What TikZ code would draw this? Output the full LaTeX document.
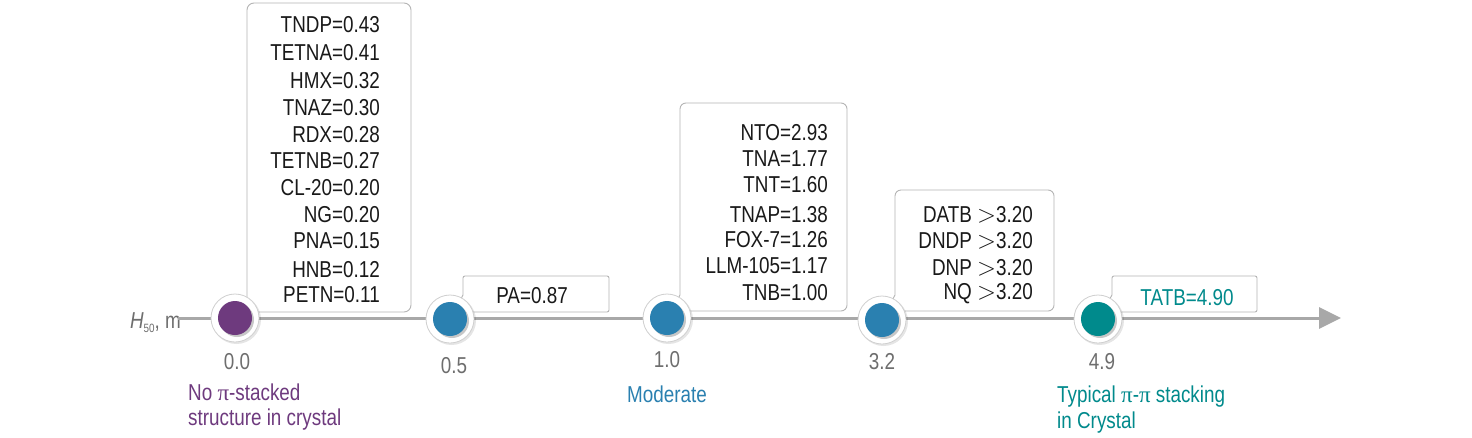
\documentclass[tikz,border=0pt]{standalone}
\usepackage{fontspec}
\setmainfont{Liberation Sans}[FakeStretch=0.82]
\newfontfamily\pifont{Liberation Serif}
\usetikzlibrary{arrows.meta}
\definecolor{cpurple}{HTML}{6E3A7E}
\definecolor{cblue}{HTML}{2A80B0}
\definecolor{cteal}{HTML}{008A8C}
\definecolor{tgray}{HTML}{6E6E6E}
\definecolor{axgray}{HTML}{A8A8A8}
\definecolor{boxgray}{HTML}{B4B4B4}
\definecolor{halogray}{HTML}{CFCFCF}
\begin{document}
\begin{tikzpicture}[x=1pt,y=-1pt,
  axisline/.style={draw=axgray, line width=3pt},
  boxline/.style={draw=boxgray, line width=0.9pt, fill=white},
  val/.style={anchor=base east, inner sep=0pt, font=\fontsize{23}{26}\selectfont, text=black!90},
  valc/.style={anchor=base, inner sep=0pt, font=\fontsize{23}{26}\selectfont, text=black!90},
  tick/.style={anchor=base, inner sep=0pt, font=\fontsize{23}{26}\selectfont, text=tgray},
  note/.style={anchor=base west, inner sep=0pt, font=\fontsize{23}{26}\selectfont},
  halo/.style={fill=white, draw=halogray, line width=0.8pt},
  shadow/.style={fill=black, opacity=0.22},
  ]
\useasboundingbox (0,0) rectangle (1472,437);
\fill[white] (0,0) rectangle (1472,437);

% axis
\node[anchor=base east, inner sep=0pt, font=\fontsize{23}{26}\selectfont, text=tgray] (axlab) at (181,328) {\itshape H\upshape\raisebox{-0.35ex}{\fontsize{12}{12}\selectfont 50}, m};
\coordinate (axA) at (178,318);
\coordinate (axB) at (1341,318);
\draw[axisline, -{Triangle[length=22pt,width=21pt]}] (axA) -- (axB);

% callout boxes
\path[boxline] (247,300) [rounded corners=7pt] -- (247,3) -- (411,3) -- (411,312) [sharp corners] -- (257,312) -- (235,318) -- cycle;
\path[boxline] (463,295) [rounded corners=2pt] -- (463,276) -- (609,276) -- (609,312) [sharp corners] -- (473,312) -- (450,319) -- cycle;
\path[boxline] (680,295) [rounded corners=6pt] -- (680,103) -- (847,103) -- (847,311) [sharp corners] -- (690,311) -- (667,318) -- cycle;
\path[boxline] (895,295) [rounded corners=6pt] -- (895,190) -- (1054,190) -- (1054,311) [sharp corners] -- (905,311) -- (882,320) -- cycle;
\path[boxline] (1112,295) [rounded corners=2pt] -- (1112,276) -- (1257,276) -- (1257,312) [sharp corners] -- (1122,312) -- (1098,319) -- cycle;

% box 1 values
\node[val] (v1a) at (380,32) {TNDP=0.43};
\node[val] (v1b) at (380,60) {TETNA=0.41};
\node[val] (v1c) at (380,88) {HMX=0.32};
\node[val] (v1d) at (380,115) {TNAZ=0.30};
\node[val] (v1e) at (380,142) {RDX=0.28};
\node[val] (v1f) at (380,168) {TETNB=0.27};
\node[val] (v1g) at (380,195) {CL-20=0.20};
\node[val] (v1h) at (380,222) {NG=0.20};
\node[val] (v1i) at (380,248) {PNA=0.15};
\node[val] (v1j) at (380,277) {HNB=0.12};
\node[val] (v1k) at (380,302) {PETN=0.11};

% box 2
\node[valc] (v2a) at (532,303) {PA=0.87};

% box 3
\node[val] (v3a) at (828,140) {NTO=2.93};
\node[val] (v3b) at (828,166) {TNA=1.77};
\node[val] (v3c) at (828,192) {TNT=1.60};
\node[val] (v3d) at (828,222) {TNAP=1.38};
\node[val] (v3e) at (828,247) {FOX-7=1.26};
\node[val] (v3f) at (828,273) {LLM-105=1.17};
\node[val] (v3g) at (828,300) {TNB=1.00};

% box 4
\node[val] (v4a) at (1033,222) {DATB $>$3.20};
\node[val] (v4b) at (1033,248) {DNDP $>$3.20};
\node[val] (v4c) at (1033,275) {DNP $>$3.20};
\node[val] (v4d) at (1033,299) {NQ $>$3.20};

% box 5
\node[valc, text=cteal] (v5a) at (1187,305) {TATB=4.90};

% dots
\foreach \n/\x/\y/\c in {d0/235/318/cpurple, d1/450/319/cblue, d2/667/318/cblue, d3/882/320/cblue, d4/1098/319/cteal}{
  \fill[shadow, opacity=0.10] (\x+1.5,\y+1.5) circle (24.5pt);
  \path[halo] (\x,\y) circle (24pt);
  \fill[shadow] (\x+2,\y+2) circle (17pt);
  \fill[\c] (\x,\y) circle (17pt);
  \coordinate (\n) at (\x,\y);
}

% tick labels
\node[tick] (t0) at (237,369) {0.0};
\node[tick] (t1) at (454,373) {0.5};
\node[tick] (t2) at (667,367) {1.0};
\node[tick] (t3) at (882,369) {3.2};
\node[tick] (t4) at (1102,369) {4.9};

% notes
\node[note, text=cpurple] (n0a) at (188,400) {No {\pifont π}-stacked};
\node[note, text=cpurple] (n0b) at (188,425) {structure in crystal};
\node[note, text=cblue] (n2) at (627,402) {Moderate};
\node[note, text=cteal] (n4a) at (1057,402) {Typical {\pifont π}-{\pifont π} stacking};
\node[note, text=cteal] (n4b) at (1057,428) {in Crystal};
\end{tikzpicture}
\end{document}
